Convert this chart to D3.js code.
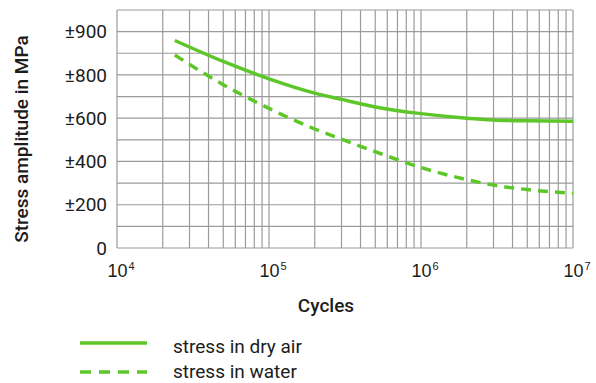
<!DOCTYPE html>
<html>
<head>
<meta charset="utf-8">
<script src="https://cdn.jsdelivr.net/npm/d3@7"></script>
<style>
  html, body { margin: 0; padding: 0; background: #fff; }
  svg { display: block; font-family: Roboto, "Noto Sans", sans-serif; }
</style>
</head>
<body>
<svg id="chart" width="596" height="383"></svg>
<script>
// Fatigue (S-N) curves: stress amplitude vs. number of cycles
const seriesNames = ["stress in dry air", "stress in water"];
const cyclesDryAir = [24000, 50000, 1e5, 2e5, 3e5, 5e5, 1e6, 2e6, 3e6, 5e6, 1e7];
const stressDryAir = [959, 862, 782, 716, 687, 652, 621, 600, 592, 588, 586];
const cyclesWater  = [24000, 50000, 1e5, 2e5, 3e5, 5e5, 1e6, 2e6, 3e6, 5e6, 1e7];
const stressWater  = [892, 755, 645, 550, 503, 445, 372, 316, 291, 270, 253];

const yTickValues = [0, 200, 400, 600, 800, 1000];
const yTickLabels = ["0", "±200", "±400", "±600", "±800", "±900"];
const xTickValues = [1e4, 1e5, 1e6, 1e7];
const xTickExponents = ["4", "5", "6", "7"];

const W = 596, H = 383;
const margin = { top: 10, right: 23, bottom: 135, left: 117 };
const iw = W - margin.left - margin.right;
const ih = H - margin.top - margin.bottom;
const green = "#5dc72a";
const gridColor = "#9b9b9b";
const textColor = "#1c1c1c";

const svg = d3.select("#chart");
const g = svg.append("g").attr("transform", `translate(${margin.left},${margin.top})`);

const x = d3.scaleLog().domain([1e4, 1e7]).range([0, iw]);
const y = d3.scaleLinear().domain([0, 1100]).range([ih, 0]);

// Grid: every 100 MPa horizontally, 1..9 per decade vertically
const hGrid = d3.range(0, 1101, 100);
g.append("g").selectAll("line").data(hGrid).join("line")
  .attr("x1", 0).attr("x2", iw)
  .attr("y1", d => y(d)).attr("y2", d => y(d))
  .attr("stroke", gridColor).attr("stroke-width", 1.2);

const vGrid = [];
for (let e = 4; e < 7; e++) for (let k = 1; k < 10; k++) vGrid.push(k * Math.pow(10, e));
vGrid.push(1e7);
g.append("g").selectAll("line").data(vGrid).join("line")
  .attr("x1", d => x(d)).attr("x2", d => x(d))
  .attr("y1", 0).attr("y2", ih)
  .attr("stroke", gridColor).attr("stroke-width", 1.2);

// Y axis labels
const yAxis = d3.axisLeft(y).tickValues(yTickValues)
  .tickFormat((d, i) => yTickLabels[i]).tickSize(0).tickPadding(10);
const yAxisG = g.append("g").call(yAxis);
yAxisG.select(".domain").remove();
yAxisG.selectAll("text").attr("font-size", 19).attr("fill", textColor)
  .attr("font-family", "Roboto, sans-serif");

// X axis labels as powers of ten
const xAxisG = g.append("g").attr("transform", `translate(0,${ih})`)
  .call(d3.axisBottom(x).tickValues(xTickValues).tickFormat("").tickSize(0));
xAxisG.select(".domain").remove();
xAxisG.selectAll(".tick").each(function (d, i) {
  const t = d3.select(this).append("text")
    .attr("x", -10).attr("y", 29).attr("text-anchor", "start")
    .attr("fill", textColor).attr("font-size", 18);
  t.append("tspan").text("10");
  t.append("tspan").text(xTickExponents[i]).attr("font-size", 11).attr("dx", 1).attr("dy", -7);
});

// Axis titles
svg.append("text")
  .attr("transform", "translate(28,139) rotate(-90)")
  .attr("text-anchor", "middle").attr("font-size", 19).attr("font-weight", 500)
  .attr("fill", textColor).text("Stress amplitude in MPa");
svg.append("text")
  .attr("x", 326).attr("y", 312).attr("text-anchor", "middle")
  .attr("font-size", 19).attr("font-weight", 500).attr("fill", textColor).text("Cycles");

// Curves
const line = d3.line().x(d => x(d[0])).y(d => y(d[1])).curve(d3.curveMonotoneX);
const dry = cyclesDryAir.map((c, i) => [c, stressDryAir[i]]);
const water = cyclesWater.map((c, i) => [c, stressWater[i]]);

g.append("path").datum(dry).attr("d", line)
  .attr("fill", "none").attr("stroke", green).attr("stroke-width", 3.5);
g.append("path").datum(water).attr("d", line)
  .attr("fill", "none").attr("stroke", green).attr("stroke-width", 3.5)
  .attr("stroke-dasharray", "10,7");

// Legend
const legend = svg.append("g");
const legendRows = [{ dash: null, y: 343, ty: 353 }, { dash: "11,8", y: 372, ty: 378 }];
legendRows.forEach((r, i) => {
  legend.append("line").attr("x1", 80).attr("x2", 147).attr("y1", r.y).attr("y2", r.y)
    .attr("stroke", green).attr("stroke-width", 3.5)
    .attr("stroke-dasharray", r.dash);
  legend.append("text").attr("x", 173).attr("y", r.ty)
    .attr("font-size", 19).attr("fill", textColor).text(seriesNames[i]);
});
</script>
</body>
</html>
